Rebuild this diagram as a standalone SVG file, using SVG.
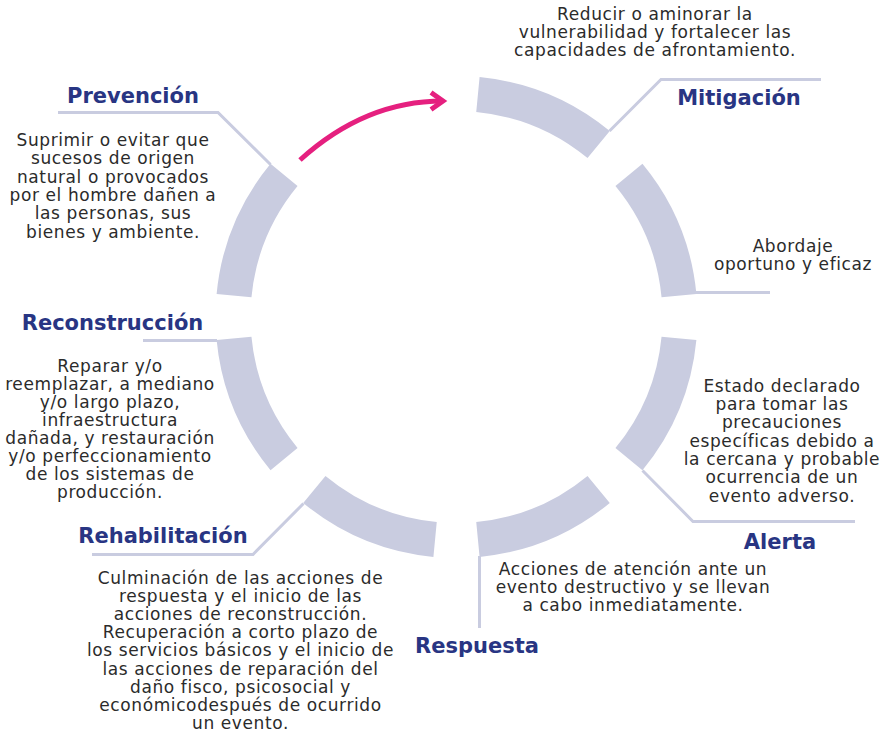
<svg xmlns="http://www.w3.org/2000/svg" width="888" height="734" viewBox="0 0 888 734">
<defs>
<style>
.seg{fill:none;stroke:#c9cce0;stroke-width:35;stroke-linecap:butt}
.con{fill:none;stroke:#c9cce0;stroke-width:3}
.ttl{font-family:"DejaVu Sans",sans-serif;font-weight:bold;font-size:21px;fill:#283583;text-anchor:middle}
.txt{font-family:"DejaVu Sans",sans-serif;font-size:17px;letter-spacing:0.6px;fill:#2b2b2b;text-anchor:middle}
.arr{fill:none;stroke:#e5207f;stroke-width:5}
</style>
<marker id="head" markerUnits="userSpaceOnUse" markerWidth="30" markerHeight="30" viewBox="-20 -15 30 30" refX="0" refY="0" orient="auto">
<path d="M-12,-8.5 L0,0 L-12,8.5" fill="none" stroke="#e5207f" stroke-width="5" stroke-linejoin="miter"/>
</marker>
</defs>
<rect width="888" height="734" fill="#ffffff"/>
<g id="ring">
<path class="seg" d="M477.92,94.53 A223.5,223.5 0 0 1 598.66,144.54"/>
<path class="seg" d="M628.96,174.84 A223.5,223.5 0 0 1 678.97,295.58"/>
<path class="seg" d="M678.97,338.42 A223.5,223.5 0 0 1 628.96,459.16"/>
<path class="seg" d="M598.66,489.46 A223.5,223.5 0 0 1 477.92,539.47"/>
<path class="seg" d="M435.08,539.47 A223.5,223.5 0 0 1 314.34,489.46"/>
<path class="seg" d="M284.04,459.16 A223.5,223.5 0 0 1 234.03,338.42"/>
<path class="seg" d="M234.03,295.58 A223.5,223.5 0 0 1 284.04,174.84"/>
</g>
<g id="connectors">
<path class="con" d="M58,112.5 H218 L270.5,164.5"/>
<path class="con" d="M609.5,131 L661,79.5 H821"/>
<path class="con" d="M696,292.5 H770"/>
<path class="con" d="M642.5,470.5 L693,521.5 H855"/>
<path class="con" d="M479.5,556 V628"/>
<path class="con" d="M92,554.5 H253 L303.5,503.5"/>
<path class="con" d="M143,340.5 H217"/>
<path class="arr" d="M300,160 Q365,101 443,101" marker-end="url(#head)"/>
</g>
<g id="mitigacion">
<text class="ttl" x="739" y="105">Mitigación</text>
<text class="txt"><tspan x="655" y="20">Reducir o aminorar la</tspan><tspan x="655" y="38">vulnerabilidad y fortalecer las</tspan><tspan x="655" y="56">capacidades de afrontamiento.</tspan></text>
</g>
<g id="prevencion">
<text class="ttl" x="133" y="103">Prevención</text>
<text class="txt"><tspan x="113" y="146">Suprimir o evitar que</tspan><tspan x="113" y="164.3">sucesos de origen</tspan><tspan x="113" y="182.6">natural o provocados</tspan><tspan x="113" y="200.9">por el hombre dañen a</tspan><tspan x="113" y="219.2">las personas, sus</tspan><tspan x="113" y="237.5">bienes y ambiente.</tspan></text>
</g>
<g id="reconstruccion">
<text class="ttl" x="112.5" y="330">Reconstrucción</text>
<text class="txt"><tspan x="110" y="372">Reparar y/o</tspan><tspan x="110" y="390">reemplazar, a mediano</tspan><tspan x="110" y="408">y/o largo plazo,</tspan><tspan x="110" y="426">infraestructura</tspan><tspan x="110" y="444">dañada, y restauración</tspan><tspan x="110" y="462">y/o perfeccionamiento</tspan><tspan x="110" y="480">de los sistemas de</tspan><tspan x="110" y="498">producción.</tspan></text>
</g>
<g id="abordaje">
<text class="txt"><tspan x="793" y="252">Abordaje</tspan><tspan x="793" y="270">oportuno y eficaz</tspan></text>
</g>
<g id="alerta">
<text class="ttl" x="780" y="549">Alerta</text>
<text class="txt"><tspan x="782" y="391.7">Estado declarado</tspan><tspan x="782" y="410">para tomar las</tspan><tspan x="782" y="428.3">precauciones</tspan><tspan x="782" y="446.6">específicas debido a</tspan><tspan x="782" y="464.9">la cercana y probable</tspan><tspan x="782" y="483.2">ocurrencia de un</tspan><tspan x="782" y="501.5">evento adverso.</tspan></text>
</g>
<g id="respuesta">
<text class="ttl" x="477" y="653">Respuesta</text>
<text class="txt"><tspan x="633" y="575">Acciones de atención ante un</tspan><tspan x="633" y="593">evento destructivo y se llevan</tspan><tspan x="633" y="611">a cabo inmediatamente.</tspan></text>
</g>
<g id="rehabilitacion">
<text class="ttl" x="163" y="543">Rehabilitación</text>
<text class="txt"><tspan x="240.5" y="584">Culminación de las acciones de</tspan><tspan x="240.5" y="602.1">respuesta y el inicio de las</tspan><tspan x="240.5" y="620.2">acciones de reconstrucción.</tspan><tspan x="240.5" y="638.3">Recuperación a corto plazo de</tspan><tspan x="240.5" y="656.4">los servicios básicos y el inicio de</tspan><tspan x="240.5" y="674.5">las acciones de reparación del</tspan><tspan x="240.5" y="692.6">daño fisco, psicosocial y</tspan><tspan x="240.5" y="710.7">económicodespués de ocurrido</tspan><tspan x="240.5" y="728.8">un evento.</tspan></text>
</g>
</svg>
